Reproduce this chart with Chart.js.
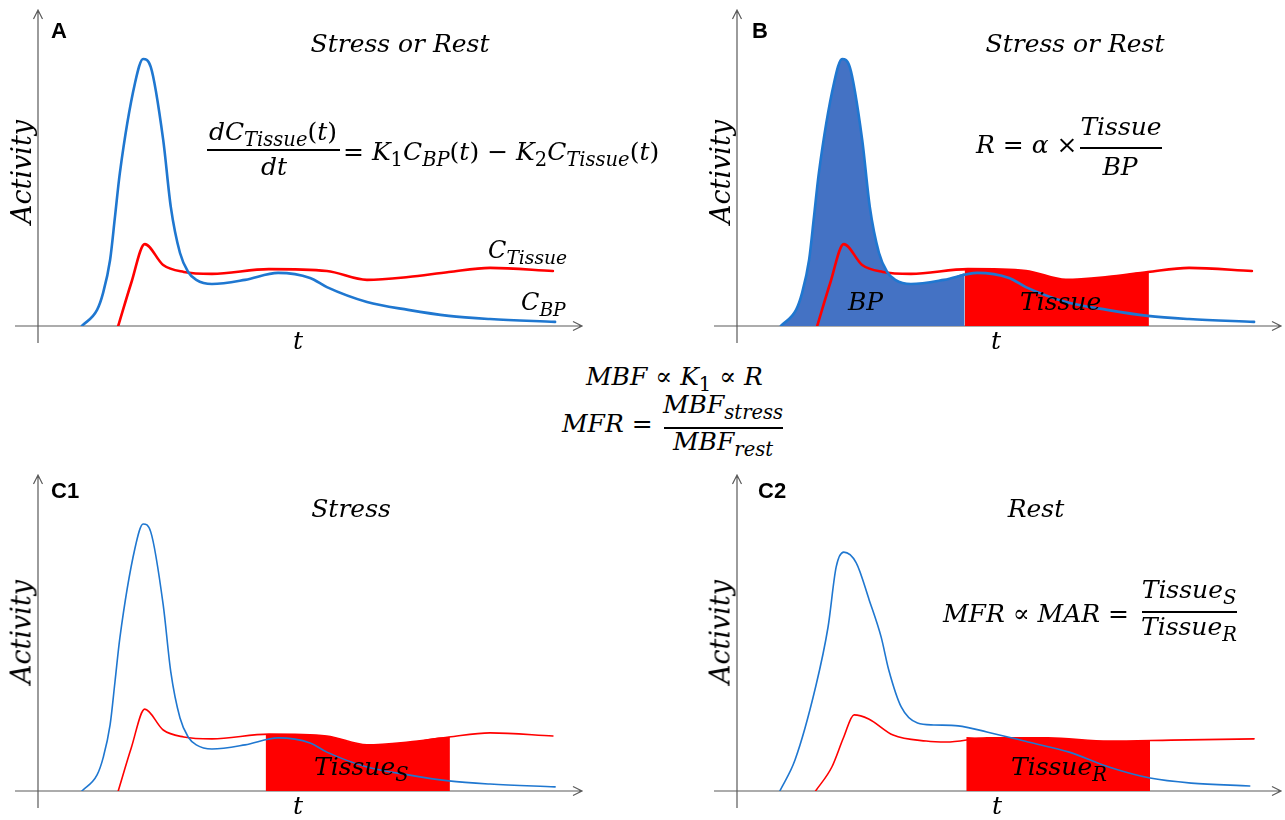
<!DOCTYPE html>
<html>
<head>
<meta charset="utf-8">
<script src="https://cdn.jsdelivr.net/npm/chart.js@4.4.1/dist/chart.umd.min.js"></script>
<style>
  html, body { margin:0; padding:0; background:#fff; }
  body { width:1285px; height:820px; position:relative; overflow:hidden; }
  canvas { position:absolute; }
  .txt { position:absolute; white-space:nowrap; line-height:1; color:#000;
         font-family:"DejaVu Serif", serif; font-style:italic; z-index:2; }
  .txt sub { font-size:0.78em; vertical-align:-0.3em; line-height:0; }
  .up { font-style:normal; }
  .tag { font-family:"Liberation Sans", Arial, sans-serif; font-style:normal; font-weight:bold; }
  .bar { position:absolute; height:1.5px; background:#000; z-index:2; }
</style>
</head>
<body>
<canvas id="panelA"  width="640" height="360" style="left:0px;top:0px"></canvas>
<canvas id="panelB"  width="586" height="360" style="left:699px;top:0px"></canvas>
<canvas id="panelC1" width="640" height="355" style="left:0px;top:465px"></canvas>
<canvas id="panelC2" width="586" height="355" style="left:699px;top:465px"></canvas>

<script>
// ── Data: time / activity in arbitrary units (0–100 along each axis) ──
// stress study (panels A, B, C1)
const stressBpT = [8.1, 10.9, 12.0, 13.3, 14.2, 15.1, 17.9, 19.4, 20.8, 23.1, 24.5, 26.2, 27.7, 29.2, 32.1, 38.2, 44.3, 50.2, 53.3, 60.7, 68.3, 75.8, 83.4, 95.4];
const stressBpA = [0, 5.1, 10.4, 20.9, 34.5, 48.4, 76.9, 84.5, 82.0, 58.9, 37.7, 23.1, 17.1, 14.6, 13.3, 14.6, 16.8, 15.2, 12.3, 7.6, 5.1, 3.2, 2.2, 1.3];
const stressTissueT = [14.8, 17.2, 19.7, 23.1, 26.9, 32.1, 42.6, 53.3, 60.7, 68.3, 75.8, 83.4, 95.0];
const stressTissueA = [0, 13.6, 25.9, 19.3, 17.1, 16.5, 18.0, 17.4, 14.6, 15.5, 17.1, 18.4, 17.4];

// rest study (panel C2)
const restBpT = [7.9, 10.7, 14.5, 16.8, 18.3, 19.7, 22.0, 24.4, 26.6, 28.0, 30.3, 33.3, 36.3, 40.8, 46.1, 53.7, 61.3, 68.6, 76.2, 83.8, 94.6];
const restBpA = [0, 9.8, 32.9, 51.9, 70.9, 75.6, 72.2, 60.4, 48.7, 38.3, 26.6, 21.5, 20.9, 20.6, 18.7, 15.5, 12.3, 7.6, 4.1, 2.5, 1.6];
const restTissueT = [14.5, 17.5, 19.7, 21.6, 24.3, 28.8, 34.9, 38.6, 46.1, 57.4, 68.6, 80.1, 95.4];
const restTissueA = [0, 7.6, 17.1, 24.1, 22.8, 17.7, 15.8, 15.5, 16.8, 16.8, 15.8, 16.1, 16.5];

// shaded windows (start/end time and curve height at the edges)
const bpEnd = 42, bpEdge = 16.8;
const stressWindow = [42, 76], stressEdges = [18.0, 17.1];
const restWindow = [42.3, 76.2], restEdges = [17.1, 15.8];

// ── Colours ──────────────────────────────────────────────────────
const BLUE = "#1f77d0", RED = "#ff0000", BLUE_FILL = "#4472c4", AXIS = "#5a5a5a";

// ── Helpers ──────────────────────────────────────────────────────
const pts = (t, a) => t.map((x, i) => ({ x, y: a[i] }));

function windowPts(t, a, win, edges) {
  return [{ x: win[0], y: edges[0] },
          ...pts(t, a).filter(p => p.x > win[0] && p.x < win[1]),
          { x: win[1], y: edges[1] }];
}

// axes with open arrow heads, drawn under the curves
const arrowAxes = {
  id: "arrowAxes",
  beforeDatasetsDraw(chart) {
    const { ctx, scales: { x, y } } = chart;
    const x0 = x.getPixelForValue(0), y0 = y.getPixelForValue(0);
    const yTop = y.getPixelForValue(100), xEnd = x.getPixelForValue(100) + 2;
    ctx.save();
    ctx.strokeStyle = AXIS;
    ctx.lineWidth = 1.2;
    ctx.beginPath();
    ctx.moveTo(x0, yTop); ctx.lineTo(x0, y0 + 17);
    ctx.moveTo(x0 - 23, y0); ctx.lineTo(xEnd, y0);
    ctx.moveTo(x0 - 4.5, yTop + 9); ctx.lineTo(x0, yTop); ctx.lineTo(x0 + 4.5, yTop + 9);
    ctx.moveTo(xEnd - 9, y0 - 4.5); ctx.lineTo(xEnd, y0); ctx.lineTo(xEnd - 9, y0 + 4.5);
    ctx.stroke();
    ctx.restore();
  }
};

function makePanel(id, pad, lines, fills, lw) {
  const datasets = [];
  lines.forEach(l => datasets.push({
    data: l.data, borderColor: l.color, borderWidth: lw, fill: false,
    pointRadius: 0, cubicInterpolationMode: "monotone"
  }));
  fills.forEach(f => datasets.push({
    data: f.data, borderWidth: 0, borderColor: "transparent", backgroundColor: f.color,
    fill: "origin", pointRadius: 0, cubicInterpolationMode: "monotone"
  }));
  return new Chart(document.getElementById(id), {
    type: "line",
    data: { datasets },
    options: {
      responsive: false,
      animation: false,
      layout: { padding: pad },
      elements: { line: { borderCapStyle: "round", borderJoinStyle: "round" } },
      scales: {
        x: { type: "linear", min: 0, max: 100, display: false },
        y: { type: "linear", min: 0, max: 100, display: false }
      },
      plugins: { legend: { display: false }, tooltip: { enabled: false } }
    },
    plugins: [arrowAxes]
  });
}

const padLeftTop = { left: 38, top: 10, right: 60, bottom: 34 };
const padRightTop = { left: 38, top: 10, right: 6, bottom: 34 };
const padLeftBot = { left: 38, top: 10, right: 60, bottom: 29 };
const padRightBot = { left: 38, top: 10, right: 6, bottom: 29 };

const stressBp = pts(stressBpT, stressBpA);
const stressTissue = pts(stressTissueT, stressTissueA);

// A: plain curves
makePanel("panelA", padLeftTop,
  [{ data: stressBp, color: BLUE }, { data: stressTissue, color: RED }], [], 2.6);

// B: BP area and tissue area
makePanel("panelB", padRightTop,
  [{ data: stressBp, color: BLUE }, { data: stressTissue, color: RED }],
  [{ data: [...stressBp.filter(p => p.x < bpEnd), { x: bpEnd, y: bpEdge }], color: BLUE_FILL },
   { data: windowPts(stressTissueT, stressTissueA, stressWindow, stressEdges), color: RED }], 2.6);

// C1: stress tissue window
makePanel("panelC1", padLeftBot,
  [{ data: stressBp, color: BLUE }, { data: stressTissue, color: RED }],
  [{ data: windowPts(stressTissueT, stressTissueA, stressWindow, stressEdges), color: RED }], 1.6);

// C2: rest tissue window
makePanel("panelC2", padRightBot,
  [{ data: pts(restBpT, restBpA), color: BLUE }, { data: pts(restTissueT, restTissueA), color: RED }],
  [{ data: windowPts(restTissueT, restTissueA, restWindow, restEdges), color: RED }], 1.6);

// ── Text overlays ────────────────────────────────────────────────
function label(html, x, base, size, align, extra) {
  const d = document.createElement("div");
  d.className = "txt" + (extra ? " " + extra : "");
  d.innerHTML = html;
  d.style.fontSize = size + "px";
  d.style.left = x + "px";
  d.style.top = (base - 0.85 * size) + "px";
  if (align === "c") d.style.transform = "translateX(-50%)";
  document.body.appendChild(d);
  return d;
}
function bar(x, y, w) {
  const d = document.createElement("div");
  d.className = "bar";
  d.style.left = x + "px"; d.style.top = y + "px"; d.style.width = w + "px";
  document.body.appendChild(d);
}
function yLabel(cx, cy, size) {
  const d = document.createElement("div");
  d.className = "txt";
  d.textContent = "Activity";
  d.style.fontSize = size + "px";
  d.style.left = cx + "px";
  d.style.top = cy + "px";
  d.style.transform = "translate(-50%, -50%) rotate(-90deg)";
  document.body.appendChild(d);
}
const P = s => `<span class="up">${s}</span>`;

// panel A
label("A", 51, 39, 22, "l", "tag");
label("Stress or Rest", 400, 52, 25, "c");
label(`dC<sub>Tissue</sub>${P("(")}t${P(")")}`, 273, 140, 25, "c");
bar(207, 149, 133);
label("dt", 274, 175, 25, "c");
label(`${P("=")} K<sub>${P("1")}</sub>C<sub>BP</sub>${P("(")}t${P(")")} ${P("−")}  K<sub>${P("2")}</sub>C<sub>Tissue</sub>${P("(")}t${P(")")}`, 343, 160, 25, "l");
label("C<sub>Tissue</sub>", 488, 258, 24, "l");
label("C<sub>BP</sub>", 521, 310, 24, "l");
label("t", 298, 349, 25, "c");
yLabel(21, 172, 27);

// panel B
label("B", 752, 39, 22, "l", "tag");
label("Stress or Rest", 1075, 52, 25, "c");
label(`R ${P("=")} α ${P("×")}`, 976, 153, 25, "l");
label("Tissue", 1121, 135, 25, "c");
bar(1080, 147, 82);
label("BP", 1120, 175, 25, "c");
label("BP", 848, 310, 25, "l");
label("Tissue", 1020, 310, 25, "l");
label("t", 996, 349, 25, "c");
yLabel(720, 172, 27);

// middle relations
label(`MBF ${P("∝")} K<sub>${P("1")}</sub> ${P("∝")} R`, 586, 385, 25, "l");
label(`MFR ${P("=")}`, 562, 432, 25, "l");
label("MBF<sub>stress</sub>", 723, 413, 25, "c");
bar(664, 427, 119);
label("MBF<sub>rest</sub>", 723, 450, 25, "c");

// panel C1
label("C1", 51, 499, 22, "l", "tag");
label("Stress", 351, 517, 25, "c");
label("Tissue<sub>S</sub>", 314, 775, 25, "l");
label("t", 298, 814, 25, "c");
yLabel(21, 632, 27);

// panel C2
label("C2", 758, 499, 22, "l", "tag");
label("Rest", 1036, 517, 25, "c");
label(`MFR ${P("∝")} MAR ${P("=")}`, 943, 622, 25, "l");
label("Tissue<sub>S</sub>", 1189, 598, 25, "c");
bar(1142, 611, 95);
label("Tissue<sub>R</sub>", 1189, 635, 25, "c");
label("Tissue<sub>R</sub>", 1011, 775, 25, "l");
label("t", 997, 814, 25, "c");
yLabel(720, 632, 27);
</script>
</body>
</html>
